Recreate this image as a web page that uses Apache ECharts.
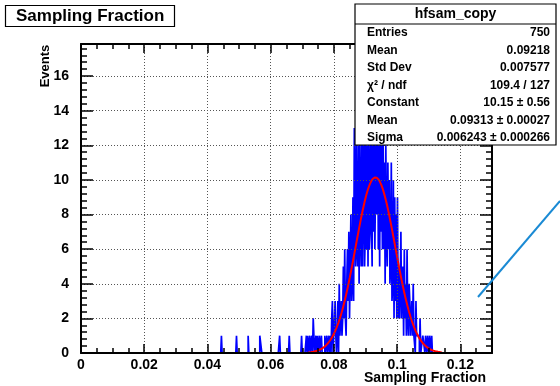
<!DOCTYPE html>
<html>
<head>
<meta charset="utf-8">
<script src="https://cdn.jsdelivr.net/npm/echarts@6/dist/echarts.min.js"></script>
<style>
  html, body { margin: 0; padding: 0; background: #fff; }
  #chart { width: 560px; height: 386px; }
</style>
</head>
<body>
<div id="chart"></div>
<script>
// Histogram binning (hfsam_copy): 600 bins over [0, 0.13]
const xMin = 0;
const xMax = 0.13;
const nBins = 600;

// Isolated single-entry bins in the low tail (0-based bin numbers)
const outlierBins = [205, 227, 244, 261, 262, 263, 290, 304];

// Contiguous bin contents starting at bin coreFirstBin
const coreFirstBin = 320;
const coreCounts = [
  0, 0, 1, 0, 0, 0, 0, 0, 0, 1,
  0, 1, 0, 0, 1, 0, 0, 1, 0, 2,
  1, 0, 0, 1, 0, 1, 0, 0, 1, 0,
  0, 1, 0, 0, 0, 0, 1, 0, 0, 1,
  0, 0, 1, 0, 1, 0, 2, 3, 0, 1,
  1, 3, 1, 0, 1, 3, 0, 4, 1, 2,
  3, 1, 2, 5, 2, 6, 2, 1, 4, 6,
  3, 7, 2, 2, 8, 3, 4, 9, 3, 13,
  8, 5, 14, 6, 5, 12, 4, 13, 7, 5,
  13, 5, 9, 14, 5, 7, 15, 6, 12, 5,
  13, 6, 7, 14, 8, 5, 16, 7, 13, 6,
  6, 14, 8, 17, 6, 12, 5, 13, 7, 12,
  6, 13, 6, 11, 4, 12, 7, 5, 11, 6,
  10, 4, 5, 11, 3, 4, 10, 2, 9, 3,
  8, 2, 9, 2, 5, 2, 4, 7, 2, 4,
  5, 1, 6, 2, 4, 1, 6, 2, 1, 4,
  3, 1, 1, 3, 1, 4, 1, 1, 0, 3,
  1, 1, 1, 1, 0, 2, 0, 0, 0, 1,
  1, 1, 0, 1, 1, 0, 1, 1, 0, 1,
  1, 0, 1, 0, 0, 0, 0, 0, 0, 0
];

// Gaussian fit result and its range
const fitConstant = 10.15;
const fitMean = 0.09313;
const fitSigma = 0.006243;
const fitRange = [0.0718, 0.1144];

// Axis ticks
const xTickStep = 0.02;
const yTickStep = 2;
const yMax = 17.85;

// Statistics box contents
const statsTitle = 'hfsam_copy';
const statsLabels = ['Entries', 'Mean', 'Std Dev', 'χ² / ndf', 'Constant', 'Mean', 'Sigma'];
const statsValues = ['750', '0.09218', '0.007577', '109.4 / 127',
                     '10.15 ± 0.56', '0.09313 ± 0.00027', '0.006243 ± 0.000266'];

const chartTitle = 'Sampling Fraction';
const xTitle = 'Sampling Fraction';
const yTitle = 'Events';

// ---- build the step outline of the histogram ----
const binWidth = (xMax - xMin) / nBins;
const counts = new Array(nBins).fill(0);
outlierBins.forEach(b => { counts[b] += 1; });
coreCounts.forEach((c, k) => { counts[coreFirstBin + k] += c; });
const histData = [];
for (let i = 0; i < nBins; i++) histData.push([xMin + i * binWidth, counts[i]]);
histData.push([xMax, counts[nBins - 1]]);

// ---- fitted Gaussian curve from the fit parameters ----
const fitData = [];
const nFitPts = 200;
for (let k = 0; k <= nFitPts; k++) {
  const x = fitRange[0] + (fitRange[1] - fitRange[0]) * k / nFitPts;
  const z = (x - fitMean) / fitSigma;
  fitData.push([x, fitConstant * Math.exp(-0.5 * z * z)]);
}

const FONT = '"Liberation Sans", Arial, Helvetica, sans-serif';

function fmtTick(step) {
  return v => {
    const r = Math.round(v / step);
    if (Math.abs(v / step - r) > 1e-6) return '';
    return String(parseFloat((r * step).toFixed(6)));
  };
}

const frameLine = { show: true, onZero: false, lineStyle: { color: '#000', width: 2 } };
const gridLine = { show: true, lineStyle: { color: '#555', width: 1, type: [1, 2] } };
const tickStyle = { color: '#000', width: 1.5 };

const chart = echarts.init(document.getElementById('chart'), null, { renderer: 'canvas' });

// stats box texts
const statsGraphics = [];
const boxX = 355, boxY = 4, boxW = 201, boxH = 141;
statsGraphics.push({
  type: 'rect', shape: { x: boxX, y: boxY, width: boxW, height: boxH },
  style: { fill: '#fff', stroke: '#000', lineWidth: 1.2 }, z: 100
});
statsGraphics.push({
  type: 'line', shape: { x1: boxX, y1: 24, x2: boxX + boxW, y2: 24 },
  style: { stroke: '#000', lineWidth: 1.2 }, z: 101
});
statsGraphics.push({
  type: 'text', x: boxX + boxW / 2, y: 14, z: 101,
  style: { text: statsTitle, fill: '#000', font: 'bold 14px ' + FONT, textAlign: 'center', textVerticalAlign: 'middle' }
});
statsLabels.forEach((lab, i) => {
  const y = 33 + i * 17.5;
  statsGraphics.push({
    type: 'text', x: 367, y: y, z: 101,
    style: { text: lab, fill: '#000', font: 'bold 12px ' + FONT, textAlign: 'left', textVerticalAlign: 'middle' }
  });
  statsGraphics.push({
    type: 'text', x: 550, y: y, z: 101,
    style: { text: statsValues[i], fill: '#000', font: 'bold 12px ' + FONT, textAlign: 'right', textVerticalAlign: 'middle' }
  });
});

const option = {
  animation: false,
  backgroundColor: '#fff',
  title: {
    text: chartTitle, left: 5, top: 5,
    padding: [3, 10, 2, 11],
    borderColor: '#000', borderWidth: 1.2,
    textStyle: { fontFamily: FONT, fontWeight: 'bold', fontSize: 17, color: '#000' }
  },
  grid: { left: 81, right: 68, top: 44, bottom: 33, containLabel: false },
  xAxis: [
    {
      type: 'value', min: xMin, max: xMax, interval: xTickStep, position: 'bottom', z: 5,
      axisLine: frameLine,
      axisTick: { show: true, inside: true, length: 9, lineStyle: tickStyle },
      minorTick: { show: true, splitNumber: 4, length: 5, lineStyle: tickStyle },
      axisLabel: { formatter: fmtTick(xTickStep), margin: 5, color: '#000', fontFamily: FONT, fontWeight: 'bold', fontSize: 14 },
      splitLine: gridLine
    },
    {
      type: 'value', min: xMin, max: xMax, interval: xTickStep, position: 'top', z: 5,
      axisLine: frameLine,
      axisTick: { show: true, inside: true, length: 9, lineStyle: tickStyle },
      minorTick: { show: true, splitNumber: 4, length: 5, lineStyle: tickStyle },
      axisLabel: { show: false }, splitLine: { show: false }
    }
  ],
  yAxis: [
    {
      type: 'value', min: 0, max: yMax, interval: yTickStep, position: 'left', z: 5,
      axisLine: frameLine,
      axisTick: { show: true, inside: true, length: 12, lineStyle: tickStyle },
      minorTick: { show: true, splitNumber: 5, length: 6, lineStyle: tickStyle },
      axisLabel: { formatter: fmtTick(yTickStep), margin: 12, color: '#000', fontFamily: FONT, fontWeight: 'bold', fontSize: 14 },
      splitLine: gridLine
    },
    {
      type: 'value', min: 0, max: yMax, interval: yTickStep, position: 'right', z: 5,
      axisLine: frameLine,
      axisTick: { show: true, inside: true, length: 12, lineStyle: tickStyle },
      minorTick: { show: true, splitNumber: 5, length: 6, lineStyle: tickStyle },
      axisLabel: { show: false }, splitLine: { show: false }
    }
  ],
  series: [
    {
      name: 'hfsam_copy', type: 'line', step: 'end', data: histData,
      xAxisIndex: 0, yAxisIndex: 0, symbol: 'none', clip: true,
      lineStyle: { color: '#0000ff', width: 1.7 }, z: 2
    },
    {
      name: 'gaus', type: 'line', data: fitData, smooth: false,
      xAxisIndex: 0, yAxisIndex: 0, symbol: 'none', clip: true,
      lineStyle: { color: '#ff0000', width: 2 }, z: 3
    }
  ],
  graphic: [
    {
      type: 'text', x: 45, y: 66, rotation: Math.PI / 2,
      style: { text: yTitle, fill: '#000', font: 'bold 13px ' + FONT, textAlign: 'center', textVerticalAlign: 'middle' }
    },
    {
      type: 'text', x: 486, y: 378,
      style: { text: xTitle, fill: '#000', font: 'bold 14px ' + FONT, textAlign: 'right', textVerticalAlign: 'middle' }
    },
    {
      type: 'line', shape: { x1: 478, y1: 297, x2: 560, y2: 201 },
      style: { stroke: '#1a8ad4', lineWidth: 2 }, z: 50
    }
  ].concat(statsGraphics)
};

chart.setOption(option);
</script>
</body>
</html>
